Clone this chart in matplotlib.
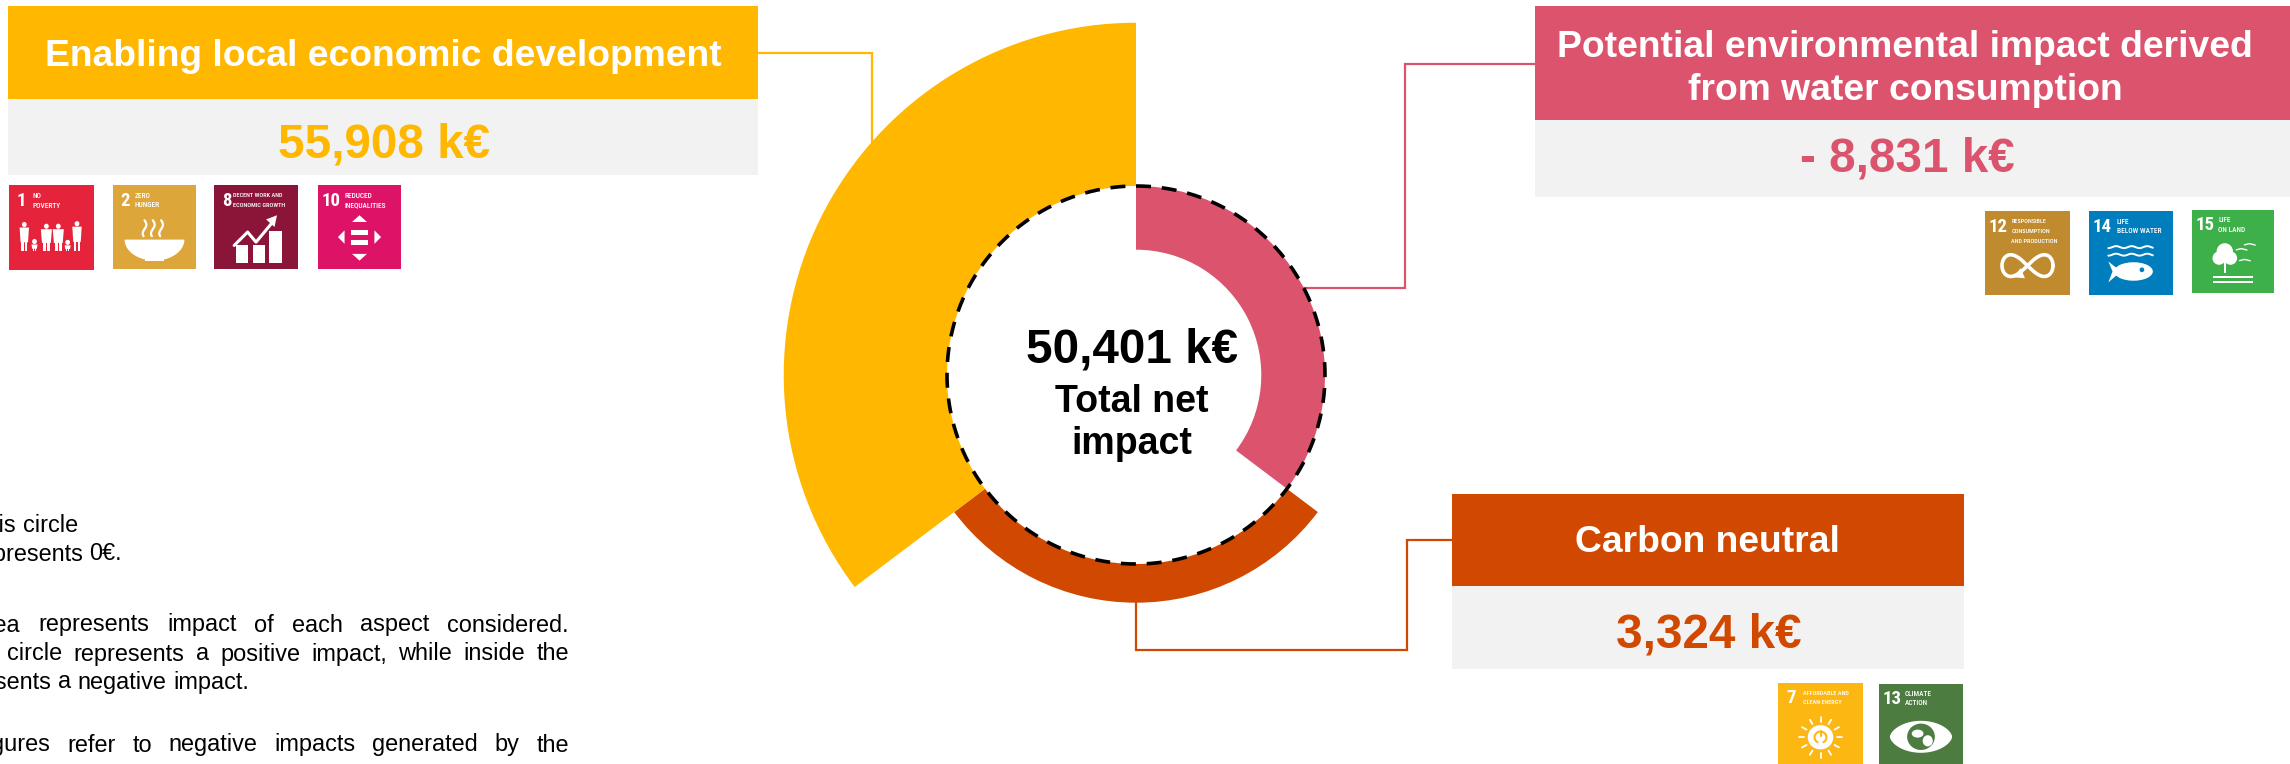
import numpy as np
import matplotlib
matplotlib.use("Agg")
import matplotlib.pyplot as plt
from matplotlib import font_manager as fm
from matplotlib.patches import Rectangle, Ellipse, Polygon

# ---- data -------------------------------------------------------------
aspects = ["Potential environmental impact derived\nfrom water consumption",
           "Carbon neutral",
           "Enabling local economic development"]
impacts_keur = [-8831, 3324, 55908]
sector_sizes_deg = [127, 106, 127]
value_labels = ["- 8,831 k€", "3,324 k€", "55,908 k€"]
total_label = "50,401 k€"
total_caption = "Total net\nimpact"

GOLD, PINK, RUST = "#FFB700", "#DB536D", "#D14900"
GREY = "#F2F2F2"

W, H = 2290, 764
fig = plt.figure(figsize=(W / 100, H / 100), dpi=100, facecolor="white")
plt.rcParams["font.family"] = ["Liberation Sans", "DejaVu Sans"]
installed = {f.name for f in fm.fontManager.ttflist}
TILE_FONT = next((n for n in ["Liberation Sans Narrow", "Roboto Condensed", "Noto Sans Condensed",
                              "Open Sans Condensed", "Roboto"] if n in installed), "Liberation Sans")

bg = fig.add_axes([0, 0, 1, 1])
bg.set_xlim(0, W)
bg.set_ylim(H, 0)
bg.axis("off")


# ---- header cards ------------------------------------------------------
def card(x0, x1, y0, y1, y2, color, title, value, tx, ty, vx, vy):
    bg.add_patch(Rectangle((x0, y0), x1 - x0, y1 - y0, fc=color, ec="none"))
    bg.add_patch(Rectangle((x0, y1), x1 - x0, y2 - y1, fc=GREY, ec="none"))
    bg.text(tx, ty, title, color="white", fontsize=26.8, fontweight="bold",
            ha="center", va="center", linespacing=1.31)
    bg.text(vx, vy, value, color=color, fontsize=34.3, fontweight="bold",
            ha="center", va="center")


card(8, 758, 6, 99, 175, GOLD, aspects[2], value_labels[2], 383, 57, 384, 145)
card(1535, 2290, 6, 120, 197, PINK, aspects[0], value_labels[0], 1905, 69, 1907, 159)
card(1452, 1964, 494, 586, 669, RUST, aspects[1], value_labels[1], 1707, 543, 1709, 635)

# ---- connectors --------------------------------------------------------
bg.plot([758, 872, 872], [53, 53, 145], color=GOLD, lw=1.6, solid_joinstyle="miter")
bg.plot([1535, 1405, 1405, 1300], [64, 64, 288, 288], color=PINK, lw=1.6, solid_joinstyle="miter")
bg.plot([1136, 1136, 1407, 1407, 1452], [600, 650, 650, 540, 540], color=RUST, lw=1.6,
        solid_joinstyle="miter")

# ---- radial chart ------------------------------------------------------
# Sectors grow outward from the zero circle on a signed power scale.
CX, CY, R_ZERO = 1136, 375, 189
POWER, PX_PER_UNIT = 0.51, 0.619
R_TOP = 60000


def fwd(v):
    v = np.asarray(v, dtype=float)
    return np.sign(v) * np.abs(v) ** POWER


def inv(v):
    v = np.asarray(v, dtype=float)
    return np.sign(v) * np.abs(v) ** (1 / POWER)


r_bottom = -((R_ZERO / PX_PER_UNIT) ** (1 / POWER))
r_axes = R_ZERO + PX_PER_UNIT * R_TOP ** POWER
ax = fig.add_axes([(CX - r_axes) / W, 1 - (CY + r_axes) / H, 2 * r_axes / W, 2 * r_axes / H],
                  projection="polar")
ax.set_theta_zero_location("N")
ax.set_theta_direction(-1)
ax.set_rscale("function", functions=(fwd, inv))
ax.set_rlim(r_bottom, R_TOP)
ax.patch.set_alpha(0)
ax.grid(False)
ax.set_xticks([])
ax.set_yticks([])
ax.spines["polar"].set_visible(False)

start = 0.0
for value, size, col in zip(impacts_keur, sector_sizes_deg, [PINK, RUST, GOLD]):
    ax.bar(np.radians(start + size / 2), value, width=np.radians(size), bottom=0,
           color=col, edgecolor="none", zorder=2)
    start += size
ax.plot(np.linspace(0, 2 * np.pi, 721), np.zeros(721), color="black", lw=2.6,
        dashes=(4.15, 3.0), zorder=3)
ax.set_rlim(r_bottom, R_TOP)

bg.text(1132, 350, total_label, fontsize=34.3, fontweight="bold", ha="center", va="center", color="black")
bg.text(1132, 423, total_caption, fontsize=27, fontweight="bold", ha="center", va="center",
        color="black", linespacing=1.25)


# ---- SDG tiles ---------------------------------------------------------
def tile(x0, y0, x1, y1, color, number, label, label_u, draw):
    bg.add_patch(Rectangle((x0, y0), x1 - x0, y1 - y0, fc=color, ec="none"))
    w, h = x1 - x0, y1 - y0
    bg.text(x0 + (0.15 if len(number) == 1 else 0.155) * w, y0 + 0.185 * h, number, color="white",
            fontsize=13.5, family=TILE_FONT, fontweight="bold", ha="center", va="center")
    size = 5.3 if max(len(s) for s in label) <= 12 else 4.5
    for i, line in enumerate(label):
        bg.text(x0 + label_u * w, y0 + (0.125 + 0.118 * i) * h, line, color="white",
                fontsize=size, family=TILE_FONT, fontweight="medium", ha="left", va="center")
    draw(lambda u, v: (x0 + u * w, y0 + v * h), w, h)


def rect(m, u0, v0, u1, v1, c="white"):
    x0, y0 = m(u0, v0)
    x1, y1 = m(u1, v1)
    bg.add_patch(Rectangle((x0, y0), x1 - x0, y1 - y0, fc=c, ec="none"))


def poly(m, pts, c="white"):
    bg.add_patch(Polygon([m(*p) for p in pts], closed=True, fc=c, ec="none"))


def curve(m, us, vs, lw=1.5, c="white"):
    xy = np.array([m(a, b) for a, b in zip(us, vs)])
    bg.plot(xy[:, 0], xy[:, 1], color=c, lw=lw, solid_capstyle="round")


def dot(m, u, v, ru, rv=None, c="white"):
    x, y = m(u, v)
    a, b = m(0, 0), m(1, 1)
    bg.add_patch(Ellipse((x, y), 2 * ru * (b[0] - a[0]), 2 * (rv or ru) * (b[1] - a[1]),
                         fc=c, ec="none"))


def family(m, w, h):
    # adults, then children holding hands between them
    for u, top, bottom, hw in [(0.18, 0.50, 0.78, .055), (0.44, 0.52, 0.78, .065),
                               (0.58, 0.52, 0.78, .065), (0.80, 0.49, 0.78, .055),
                               (0.30, 0.70, 0.78, .035), (0.69, 0.71, 0.78, .035)]:
        dot(m, u, top - 0.035, 0.028, 0.03)
        poly(m, [(u - hw, top), (u + hw, top), (u + hw * .8, top + (bottom - top) * .62),
                 (u - hw * .8, top + (bottom - top) * .62)])
        rect(m, u - hw * .6, top + (bottom - top) * .55, u - .006, bottom)
        rect(m, u + .006, top + (bottom - top) * .55, u + hw * .6, bottom)


def bowl(m, w, h):
    t = np.linspace(0, np.pi, 40)
    poly(m, [(0.5 + 0.36 * np.cos(a), 0.65 + 0.25 * np.sin(a)) for a in t])
    rect(m, 0.39, 0.88, 0.61, 0.91)
    vs = np.linspace(0.42, 0.61, 20)
    for u in (0.38, 0.48, 0.58):
        curve(m, u + 0.022 * np.sin((vs - 0.42) * 30), vs, lw=1.6)


def growth(m, w, h):
    for u0, top in [(0.26, 0.72), (0.46, 0.72), (0.66, 0.55)]:
        rect(m, u0, top, u0 + 0.15, 0.93)
    curve(m, [0.24, 0.40, 0.50, 0.70], [0.72, 0.56, 0.68, 0.44], lw=2.2)
    poly(m, [(0.75, 0.36), (0.62, 0.41), (0.72, 0.50)])


def equal(m, w, h):
    rect(m, 0.40, 0.53, 0.60, 0.59)
    rect(m, 0.40, 0.65, 0.60, 0.71)
    poly(m, [(0.5, 0.36), (0.41, 0.44), (0.59, 0.44)])
    poly(m, [(0.5, 0.90), (0.41, 0.82), (0.59, 0.82)])
    poly(m, [(0.24, 0.62), (0.32, 0.54), (0.32, 0.70)])
    poly(m, [(0.76, 0.62), (0.68, 0.54), (0.68, 0.70)])


def infinity(m, w, h):
    t = np.linspace(0, 2 * np.pi, 160)
    d = 1 + 0.35 * np.sin(t) ** 2
    curve(m, 0.5 + 0.30 * np.cos(t) / d, 0.65 + 0.30 * np.sin(t) * np.cos(t) / d, lw=2.6)
    poly(m, [(0.47, 0.80), (0.33, 0.79), (0.42, 0.68)])


def fish(m, w, h):
    us = np.linspace(0.23, 0.76, 25)
    for v0 in (0.43, 0.52):
        curve(m, us, v0 + 0.012 * np.sin(us * 34), lw=1.4)
    dot(m, 0.53, 0.72, 0.23, 0.11)
    poly(m, [(0.23, 0.60), (0.38, 0.72), (0.23, 0.85), (0.28, 0.72)])
    dot(m, 0.63, 0.70, 0.028, 0.028, c="#007DBC")


def tree(m, w, h):
    dot(m, 0.40, 0.50, 0.10, 0.10)
    dot(m, 0.33, 0.58, 0.08, 0.08)
    dot(m, 0.47, 0.58, 0.08, 0.08)
    rect(m, 0.385, 0.62, 0.415, 0.76)
    rect(m, 0.25, 0.79, 0.74, 0.815)
    rect(m, 0.25, 0.86, 0.74, 0.885)
    for u, v in [(0.60, 0.47), (0.70, 0.41), (0.64, 0.60)]:
        curve(m, [u - .06, u, u + .07], [v + .01, v - .005, v + .012], lw=1.0)


def sun(m, w, h):
    for a in np.radians(np.arange(0, 360, 30)):
        curve(m, [0.5 + 0.19 * np.cos(a), 0.5 + 0.25 * np.cos(a)],
              [0.67 + 0.19 * np.sin(a), 0.67 + 0.25 * np.sin(a)], lw=1.3)
    dot(m, 0.5, 0.67, 0.15, 0.15)
    t = np.linspace(np.radians(-60), np.radians(240), 30)
    curve(m, 0.5 + 0.07 * np.cos(t), 0.67 - 0.07 * np.sin(t), lw=1.5, c="#FDB713")
    curve(m, [0.5, 0.5], [0.59, 0.66], lw=1.5, c="#FDB713")


def eye(m, w, h):
    t = np.linspace(0, 2 * np.pi, 80)
    pts = [(0.5 + 0.37 * np.cos(a), 0.66 + 0.20 * np.sin(a) * np.abs(np.sin(a)) ** 0.2) for a in t]
    poly(m, pts)
    dot(m, 0.5, 0.66, 0.165, 0.165, c="#4C7C3F")
    dot(m, 0.46, 0.62, 0.07, 0.05)
    dot(m, 0.58, 0.71, 0.06, 0.07)


tile(9, 185, 94, 270, "#E5243B", "1", ["NO", "POVERTY"], 0.28, family)
tile(113, 185, 196, 269, "#DDA63A", "2", ["ZERO", "HUNGER"], 0.26, bowl)
tile(214, 185, 298, 269, "#8B1538", "8", ["DECENT WORK AND", "ECONOMIC GROWTH"], 0.23, growth)
tile(318, 185, 401, 269, "#DD1367", "10", ["REDUCED", "INEQUALITIES"], 0.32, equal)
tile(1985, 211, 2070, 295, "#BF8B2E", "12", ["RESPONSIBLE", "CONSUMPTION", "AND PRODUCTION"], 0.31, infinity)
tile(2089, 211, 2173, 295, "#007DBC", "14", ["LIFE", "BELOW WATER"], 0.33, fish)
tile(2192, 210, 2274, 293, "#3EB049", "15", ["LIFE", "ON LAND"], 0.32, tree)
tile(1778, 683, 1863, 764, "#FDB713", "7", ["AFFORDABLE AND", "CLEAN ENERGY"], 0.29, sun)
tile(1879, 684, 1963, 764, "#4C7C3F", "13", ["CLIMATE", "ACTION"], 0.31, eye)

# ---- explanatory notes (block runs off the left edge) ------------------
renderer = fig.canvas.get_renderer()


def note_line(words, right, y, gap):
    """Set words right to left, ending at x=right, with a fixed word gap."""
    x = right
    for word in reversed(words.split()):
        t = bg.text(x, y, word, fontsize=16.9, color="black", ha="right", va="center")
        x -= t.get_window_extent(renderer).width + gap


note_line("this circle", 78, 525, 6.5)
note_line("represents 0€.", 122, 554, 6.5)
note_line("Area represents impact of each aspect considered.", 569, 625, 17.8)
note_line("outside the circle represents a positive impact, while inside the", 569, 654, 11.3)
note_line("represents a negative impact.", 249, 682, 6.5)
note_line("figures refer to negative impacts generated by the", 569, 745, 16.8)

fig.savefig("out.png", dpi=100, facecolor="white")
